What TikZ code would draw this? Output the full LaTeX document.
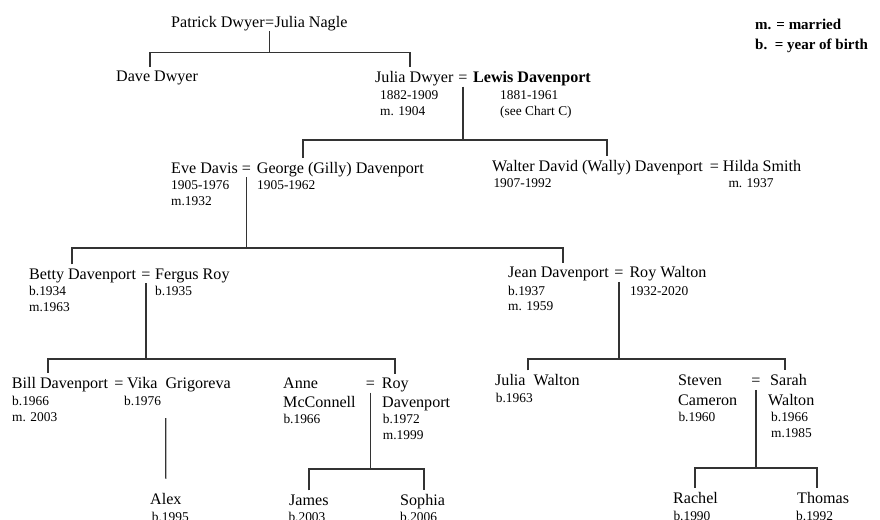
\documentclass[tikz,border=0pt]{standalone}
\usepackage{fontspec}
\setmainfont{Liberation Serif}
\usepackage{tikz}
\usetikzlibrary{positioning}

\begin{document}
\begin{tikzpicture}[x=1pt, y=-1pt,
	person/.style={anchor=base west, inner xsep=0pt, inner ysep=4pt, font=\fontsize{16.1}{18}\selectfont},
	eqsign/.style={anchor=base, inner xsep=0pt, inner ysep=4pt, font=\fontsize{16.1}{18}\selectfont},
	note/.style={anchor=base west, inner sep=0pt, font=\fontsize{13.4}{15}\selectfont},
	legend/.style={anchor=base west, inner sep=0pt, font=\fontsize{15}{17}\selectfont\bfseries},
	link/.style={line width=1.3pt, black!80}]
	\useasboundingbox (0,0) rectangle (880,519);

	% Legende
	\node[legend] (legM) at (755,29.3) {m. = married};
	\node[legend] (legB) at (755,49.3) {b.\ \ = year of birth};

	% Generation 1
	\node[person] (patrick) at (171,27.3) {Patrick Dwyer};
	\node[eqsign, base right=0pt of patrick] (eqA) {=};
	\node[person, base right=0pt of eqA] (nagle) {Julia Nagle};
	\node[person] (dave) at (116,81.7) {Dave Dwyer};
	\node[person] (juliaD) at (375,82.5) {Julia Dwyer};
	\node[eqsign] (eqB) at (463,82.5) {=};
	\node[person] (lewis) at (473,82.5) {\textbf{Lewis Davenport}};
	\coordinate (barA1) at (150,52.7);
	\coordinate (barA2) at (410,52.7);
	\draw[link] (eqA.south) -- (eqA.south |- barA1);
	\draw[link] (barA1 |- dave.north) -- (barA1) -- (barA2) -- (barA2 |- juliaD.north);

	% Generation 2
	\node[person] (eve) at (171,173) {Eve Davis};
	\node[eqsign] (eqC) at (246.5,173) {=};
	\node[person] (george) at (256.7,173) {George (Gilly) Davenport};
	\node[person] (walter) at (492,171) {Walter David (Wally) Davenport};
	\node[eqsign] (eqD) at (714.5,171) {=};
	\node[person] (hilda) at (722.7,171) {Hilda Smith};
	\coordinate (barB1) at (303,140);
	\coordinate (barB2) at (607,140);
	\draw[link] (eqB.south) -- (eqB.south |- barB1);
	\draw[link] (barB1 |- eve.north) -- (barB1) -- (barB2) -- (barB2 |- walter.north);

	% Generation 3
	\node[person] (betty) at (29,279) {Betty Davenport};
	\node[eqsign] (eqE) at (146,279) {=};
	\node[person] (fergus) at (155,279) {Fergus Roy};
	\node[person] (jean) at (508,277.7) {Jean Davenport};
	\node[eqsign] (eqF) at (619,277.7) {=};
	\node[person] (royW) at (629.3,277.7) {Roy Walton};
	\coordinate (barC1) at (72,248);
	\coordinate (barC2) at (563,248);
	\draw[link] (eqC.south) -- (eqC.south |- barC1);
	\draw[link] (barC1 |- betty.north) -- (barC1) -- (barC2) -- (barC2 |- jean.north);

	% Generation 4
	\node[person] (bill) at (11.7,388.3) {Bill Davenport};
	\node[eqsign] (eqG) at (119,388.3) {=};
	\node[person] (vika) at (127,388.3) {Vika\ \ Grigoreva};
	\node[person] (anne) at (283,388.5) {Anne};
	\node[person] (mcconnell) at (283,407.7) {McConnell};
	\node[eqsign] (eqH) at (370.5,388.5) {=};
	\node[person] (royD) at (381.7,388.5) {Roy};
	\node[person] (royD2) at (382,407.7) {Davenport};
	\node[person] (juliaW) at (495,385.7) {Julia\ \ Walton};
	\node[person] (steven) at (678,385.7) {Steven};
	\node[person] (cameron) at (678,405.7) {Cameron};
	\node[eqsign] (eqI) at (756,385.7) {=};
	\node[person] (sarah) at (770,385.7) {Sarah};
	\node[person] (sarahW) at (768,405.7) {Walton};
	\coordinate (barD1) at (48,359);
	\coordinate (barD2) at (395,359);
	\coordinate (barE1) at (528,359);
	\coordinate (barE2) at (785,359);
	\draw[link] (eqE.south) -- (eqE.south |- barD1);
	\draw[link] (barD1 |- bill.north) -- (barD1) -- (barD2) -- (barD2 |- royD.north);
	\draw[link] (eqF.south) -- (eqF.south |- barE1);
	\draw[link] (barE1 |- juliaW.north) -- (barE1) -- (barE2) -- (barE2 |- sarah.north);

	% Generation 5
	\node[person] (alex) at (150,504) {Alex};
	\node[person] (james) at (289,505) {James};
	\node[person] (sophia) at (400,505) {Sophia};
	\node[person] (rachel) at (673,503.3) {Rachel};
	\node[person] (thomas) at (797,503.3) {Thomas};
	\coordinate (vikaL) at (165.7,418);
	\draw[link] (vikaL) -- ([yshift=10pt]alex.north);
	\coordinate (barG1) at (309,469);
	\coordinate (barG2) at (424,469);
	\draw[link] (eqH.south) -- (eqH.south |- barG1);
	\draw[link] (barG1 |- james.north) -- (barG1) -- (barG2) -- (barG2 |- sophia.north);
	\coordinate (barH1) at (695,468);
	\coordinate (barH2) at (817,468);
	\draw[link] (eqI.south) -- (eqI.south |- barH1);
	\draw[link] (barH1 |- rachel.north) -- (barH1) -- (barH2) -- (barH2 |- thomas.north);

	% Dates
	\foreach \x/\y/\t [count=\i] in {
		380/99.3/1882-1909, 380/115/m. 1904, 500/99.3/1881-1961, 500/115/{(see Chart C)},
		171/189.3/1905-1976, 171/205/m.1932, 257/189.3/1905-1962,
		493.3/187/1907-1992, 728.3/187/m. 1937,
		29/295/b.1934, 29/311/m.1963, 155/295/b.1935,
		508/295/b.1937, 508/310.5/m. 1959, 630/295/1932-2020,
		12/405/b.1966, 12/421/m. 2003, 124/405/b.1976,
		283.3/423.5/b.1966, 382.7/423.5/b.1972, 382.7/439.5/m.1999,
		495.7/402.5/b.1963,
		678.3/421.5/b.1960, 771/421.5/b.1966, 771/437.5/m.1985,
		151.7/521/b.1995, 288.3/521/b.2003, 400/521/b.2006, 673.3/520/b.1990, 796/520/b.1992} {
		\node[note] (date\i) at (\x,\y) {\t};
	}
\end{tikzpicture}
\end{document}
